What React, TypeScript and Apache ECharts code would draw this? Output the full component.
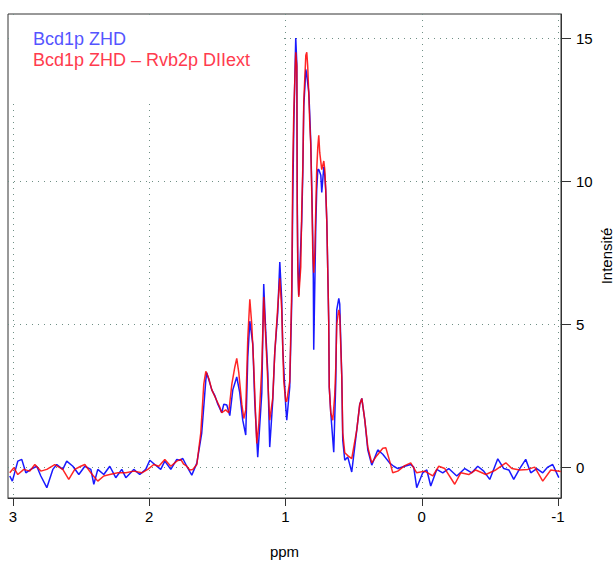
import React, { useEffect, useRef } from "react";
import * as echarts from "echarts";

// Blue spectrum: Bcd1p ZHD
const ppmBlue = [3.024, 3.005, 2.965, 2.936, 2.906, 2.870, 2.826, 2.796, 2.752, 2.708, 2.679, 2.635, 2.606, 2.561, 2.517, 2.473, 2.429, 2.407, 2.378, 2.334, 2.290, 2.246, 2.202, 2.172, 2.114, 2.070, 2.026, 1.996, 1.960, 1.916, 1.886, 1.842, 1.798, 1.776, 1.754, 1.725, 1.688, 1.651, 1.615, 1.585, 1.578, 1.541, 1.519, 1.497, 1.468, 1.453, 1.431, 1.409, 1.387, 1.358, 1.336, 1.314, 1.292, 1.277, 1.262, 1.240, 1.226, 1.204, 1.174, 1.160, 1.145, 1.130, 1.116, 1.094, 1.079, 1.057, 1.042, 1.028, 1.020, 0.998, 0.991, 0.969, 0.954, 0.947, 0.939, 0.925, 0.917, 0.914, 0.910, 0.903, 0.881, 0.873, 0.866, 0.851, 0.844, 0.829, 0.822, 0.815, 0.807, 0.800, 0.796, 0.793, 0.778, 0.771, 0.763, 0.756, 0.741, 0.734, 0.719, 0.712, 0.705, 0.697, 0.690, 0.683, 0.679, 0.668, 0.646, 0.631, 0.624, 0.609, 0.602, 0.587, 0.580, 0.565, 0.543, 0.514, 0.477, 0.455, 0.440, 0.418, 0.396, 0.367, 0.323, 0.286, 0.235, 0.206, 0.176, 0.125, 0.081, 0.059, 0.037, -0.007, -0.037, -0.066, -0.110, -0.154, -0.198, -0.257, -0.316, -0.367, -0.411, -0.455, -0.499, -0.558, -0.602, -0.639, -0.675, -0.719, -0.763, -0.800, -0.844, -0.888, -0.925, -0.961, -1.006];
const intBlue = [-0.31, -0.49, 0.21, 0.27, -0.2, -0.08, 0.03, -0.31, -0.72, -0.08, 0.09, -0.08, 0.21, 0.03, -0.26, 0.03, -0.08, -0.6, -0.08, -0.26, 0.03, -0.37, -0.08, -0.37, -0.08, -0.26, -0.08, 0.24, 0.09, -0.08, 0.21, -0.08, 0.27, 0.24, 0.3, 0.03, -0.28, 0.14, 1.19, 3.04, 3.3, 2.7, 2.5, 2.2, 1.9, 2.2, 2.17, 1.8, 2.7, 3.15, 2.6, 1.64, 1.12, 3.85, 5.1, 4.3, 2.3, 0.35, 2.6, 6.4, 4.7, 3.3, 0.7, 2.3, 4.0, 5.4, 7.17, 5.85, 4.1, 2.1, 1.64, 2.8, 5.85, 9.3, 12.0, 15.0, 14.1, 9.4, 7.2, 6.0, 8.6, 10.3, 12.6, 13.9, 13.7, 13.1, 12.3, 11.4, 9.7, 8.0, 6.6, 4.1, 8.4, 9.7, 10.4, 10.4, 10.2, 9.6, 10.5, 10.2, 9.7, 8.6, 6.9, 5.1, 2.8, 1.9, 0.52, 3.0, 5.5, 5.9, 5.7, 3.15, 0.94, 0.24, 0.35, -0.17, 1.3, 2.2, 2.4, 1.64, 0.6, 0.07, 0.6, 0.45, 0.14, 0.03, -0.05, 0.03, 0.09, 0.0, -0.72, -0.2, -0.1, -0.66, -0.08, -0.2, -0.05, -0.31, -0.05, -0.2, 0.03, -0.14, -0.43, 0.29, -0.05, -0.1, -0.43, -0.05, 0.27, -0.2, -0.05, -0.2, 0.0, 0.09, -0.37];

// Red spectrum: Bcd1p ZHD – Rvb2p DIIext
const ppmRed = [3.024, 2.994, 2.965, 2.921, 2.877, 2.840, 2.796, 2.752, 2.694, 2.635, 2.591, 2.547, 2.503, 2.473, 2.429, 2.378, 2.334, 2.290, 2.231, 2.172, 2.114, 2.055, 2.011, 1.967, 1.930, 1.886, 1.842, 1.798, 1.769, 1.747, 1.725, 1.703, 1.681, 1.651, 1.622, 1.600, 1.585, 1.563, 1.541, 1.512, 1.483, 1.468, 1.439, 1.417, 1.394, 1.372, 1.358, 1.343, 1.321, 1.306, 1.292, 1.277, 1.262, 1.248, 1.233, 1.218, 1.211, 1.196, 1.174, 1.160, 1.145, 1.130, 1.116, 1.094, 1.079, 1.057, 1.042, 1.028, 1.013, 0.998, 0.991, 0.969, 0.954, 0.947, 0.939, 0.925, 0.917, 0.914, 0.910, 0.903, 0.888, 0.881, 0.873, 0.866, 0.851, 0.844, 0.837, 0.829, 0.822, 0.815, 0.807, 0.800, 0.793, 0.785, 0.778, 0.771, 0.763, 0.756, 0.749, 0.734, 0.719, 0.712, 0.705, 0.697, 0.690, 0.683, 0.679, 0.668, 0.653, 0.639, 0.631, 0.624, 0.609, 0.602, 0.587, 0.580, 0.565, 0.543, 0.514, 0.477, 0.455, 0.440, 0.418, 0.396, 0.367, 0.330, 0.286, 0.264, 0.235, 0.213, 0.176, 0.125, 0.081, 0.037, -0.022, -0.081, -0.125, -0.169, -0.242, -0.286, -0.345, -0.396, -0.470, -0.543, -0.617, -0.661, -0.719, -0.778, -0.829, -0.888, -0.947, -1.020];
const intRed = [-0.2, -0.02, -0.26, -0.08, -0.14, 0.09, -0.14, -0.08, 0.09, -0.08, -0.43, -0.08, 0.03, 0.09, -0.2, -0.49, -0.31, -0.26, -0.2, -0.2, -0.14, -0.2, -0.08, 0.09, 0.03, 0.27, 0.03, 0.21, 0.27, 0.1, 0.03, -0.1, -0.08, 0.09, 1.2, 2.9, 3.35, 3.1, 2.7, 2.4, 2.1, 1.9, 2.0, 1.9, 2.9, 3.5, 3.8, 3.3, 2.2, 1.7, 2.0, 4.5, 5.87, 5.0, 3.5, 1.6, 0.83, 1.5, 3.5, 5.95, 4.5, 3.0, 1.64, 2.4, 4.0, 5.6, 6.6, 5.5, 3.0, 2.3, 2.3, 3.0, 6.3, 10.5, 12.5, 14.5, 14.0, 9.0, 7.0, 5.95, 7.0, 9.0, 10.5, 12.8, 14.4, 14.5, 14.0, 13.0, 12.0, 11.3, 9.5, 7.5, 6.8, 7.5, 9.0, 10.4, 11.2, 11.6, 11.0, 10.4, 10.7, 10.4, 9.7, 8.6, 6.9, 5.1, 2.8, 1.9, 1.64, 2.5, 3.5, 5.0, 5.5, 5.3, 3.15, 1.2, 0.5, 0.4, 0.3, 1.3, 2.2, 2.4, 1.64, 0.7, 0.15, 0.4, 0.66, 0.68, 0.2, -0.2, -0.14, 0.05, 0.15, -0.2, -0.14, -0.31, 0.03, -0.05, -0.6, -0.2, -0.26, -0.1, -0.26, -0.1, 0.15, -0.05, -0.1, -0.08, 0.0, -0.49, -0.1, -0.15];

const xTicks = [-1, 0, 1, 2, 3];
const yTicks = [0, 5, 10, 15];
const seriesNames = ["Bcd1p ZHD", "Bcd1p ZHD – Rvb2p DIIext"];

const FONT = 'Arial, "Liberation Sans", Helvetica, sans-serif';

export default function App() {
  const ref = useRef<HTMLDivElement>(null);
  useEffect(() => {
    if (!ref.current) return;
    const chart = echarts.init(ref.current, undefined, { renderer: "svg" });
    const blue = ppmBlue.map((x, i) => [x, intBlue[i]]);
    const red = ppmRed.map((x, i) => [x, intRed[i]]);
    const split = { show: true, lineStyle: { color: "#6f8f85", type: [1, 5], width: 1 } };
    chart.setOption({
      animation: false,
      backgroundColor: "#fff",
      textStyle: { fontFamily: FONT },
      grid: {
        left: 8,
        right: 55,
        top: 14,
        bottom: 64,
        show: true,
        borderColor: "#333",
        borderWidth: 1,
        backgroundColor: "transparent",
        containLabel: false,
        outerBoundsMode: "none",
      },
      legend: {
        orient: "vertical",
        left: 9,
        top: 15,
        padding: [13, 32, 30, 18],
        backgroundColor: "#fff",
        itemWidth: 0,
        itemHeight: 0,
        itemGap: 0,
        selectedMode: false,
        data: [
          { name: seriesNames[0], textStyle: { color: "#5555ff" } },
          { name: seriesNames[1], textStyle: { color: "#ff3b4e" } },
        ],
        textStyle: { fontSize: 18, fontFamily: FONT, lineHeight: 21, padding: 0 },
      },
      xAxis: {
        type: "value",
        inverse: true,
        min: -1.022,
        max: 3.037,
        name: "ppm",
        nameLocation: "middle",
        nameGap: 46,
        nameMoveOverlap: false,
        nameTextStyle: { fontSize: 15, color: "#000", fontFamily: FONT },
        axisLine: { show: true, onZero: false, lineStyle: { color: "#333" } },
        axisTick: { show: true, inside: false, length: 8, customValues: xTicks, lineStyle: { color: "#333" } },
        axisLabel: { customValues: xTicks, fontSize: 15, color: "#000", margin: 11, fontFamily: FONT },
        splitLine: split,
      },
      yAxis: {
        type: "value",
        position: "right",
        min: -1.08,
        max: 15.84,
        name: "Intensité",
        nameLocation: "middle",
        nameRotate: 90,
        nameGap: 38,
        nameMoveOverlap: false,
        nameTextStyle: { fontSize: 15, color: "#000", fontFamily: FONT },
        axisLine: { show: true, onZero: false, lineStyle: { color: "#333" } },
        axisTick: { show: true, inside: false, length: 10, customValues: yTicks, lineStyle: { color: "#333" } },
        axisLabel: { customValues: yTicks, fontSize: 15, color: "#000", margin: 15, fontFamily: FONT },
        splitLine: split,
      },
      series: [
        {
          name: seriesNames[0],
          type: "line",
          data: blue,
          showSymbol: false,
          symbol: "none",
          color: "#0000ff",
          lineStyle: { color: "rgba(0,0,255,0.9)", width: 1.5 },
          z: 2,
        },
        {
          name: seriesNames[1],
          type: "line",
          data: red,
          showSymbol: false,
          symbol: "none",
          color: "#ff0000",
          lineStyle: { color: "rgba(255,0,0,0.85)", width: 1.5 },
          z: 3,
        },
      ],
    });
    return () => chart.dispose();
  }, []);
  return (
    <div
      ref={ref}
      style={{ position: "fixed", left: 0, top: 0, width: 616, height: 562, background: "#fff" }}
    />
  );
}
